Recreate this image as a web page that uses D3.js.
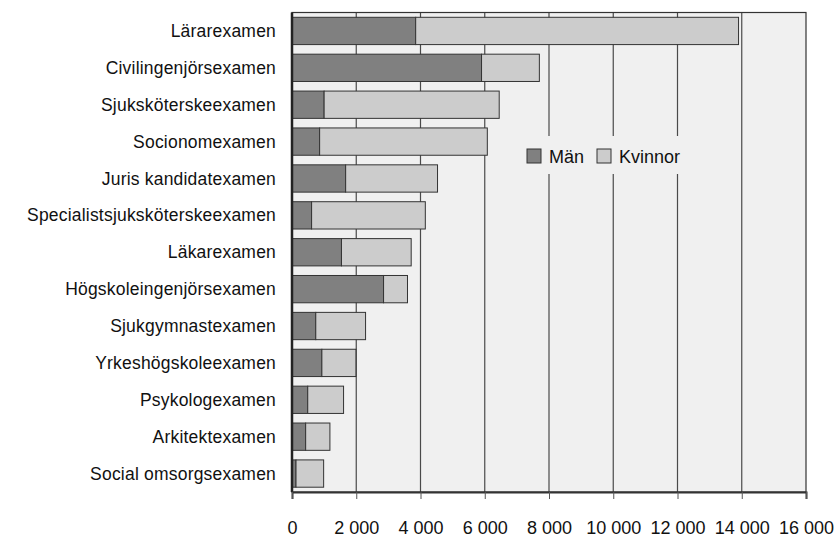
<!DOCTYPE html>
<html>
<head>
<meta charset="utf-8">
<script src="https://cdn.jsdelivr.net/npm/d3@7"></script>
<style>
body { margin: 0; background: #fff; }
text { font-family: "Liberation Sans", Arial, sans-serif; fill: #111; }
</style>
</head>
<body>
<script>
// examen, antal
const categories = ["Lärarexamen", "Civilingenjörsexamen", "Sjuksköterskeexamen", "Socionomexamen",
  "Juris kandidatexamen", "Specialistsjuksköterskeexamen", "Läkarexamen", "Högskoleingenjörsexamen",
  "Sjukgymnastexamen", "Yrkeshögskoleexamen", "Psykologexamen", "Arkitektexamen", "Social omsorgsexamen"];
const man = [3850, 5900, 1000, 860, 1670, 610, 1540, 2850, 740, 930, 490, 425, 125];
const kvinnor = [10050, 1800, 5450, 5220, 2860, 3540, 2170, 745, 1550, 1060, 1115, 755, 860];
const ticks = [0, 2000, 4000, 6000, 8000, 10000, 12000, 14000, 16000];
const seriesNames = ["Män", "Kvinnor"];
const colors = ["#808080", "#cccccc"];

const w = 837, h = 538;
const m = {top: 12.5, right: 31, bottom: 46, left: 292};

const svg = d3.select("body").append("svg")
  .attr("width", w)
  .attr("height", h);

const x = d3.scaleLinear().domain([0, 16000]).range([m.left, w - m.right]);
const y = d3.scaleBand().domain(categories).range([m.top, h - m.bottom]).paddingInner(0.26).paddingOuter(0.13);

// plot background
svg.append("rect")
  .attr("x", m.left).attr("y", m.top)
  .attr("width", x(16000) - m.left).attr("height", h - m.bottom - m.top)
  .attr("fill", "#f0f0f0");

// gridlines
svg.selectAll(".grid")
  .data(ticks.slice(1, -1))
  .enter().append("line")
  .attr("x1", d => x(d)).attr("x2", d => x(d))
  .attr("y1", m.top).attr("y2", h - m.bottom)
  .attr("stroke", "#4a4a4a").attr("stroke-width", 1.2);

// stacked bars
const rows = categories.map((c, i) => ({c: c, v: [man[i], kvinnor[i]]}));
rows.forEach(r => {
  let start = 0;
  r.v.forEach((v, j) => {
    svg.append("rect")
      .attr("x", x(start))
      .attr("y", y(r.c))
      .attr("width", x(start + v) - x(start))
      .attr("height", y.bandwidth())
      .attr("fill", colors[j])
      .attr("stroke", "#333")
      .attr("stroke-width", 1);
    start += v;
  });
});

// frame
svg.append("rect")
  .attr("x", m.left).attr("y", m.top)
  .attr("width", x(16000) - m.left).attr("height", h - m.bottom - m.top)
  .attr("fill", "none").attr("stroke", "#333").attr("stroke-width", 1.2);
svg.append("line")
  .attr("x1", m.left).attr("x2", m.left)
  .attr("y1", m.top).attr("y2", h - m.bottom)
  .attr("stroke", "#222").attr("stroke-width", 2.5);

// x axis
const fmt = d => d3.format(",")(d).replace(",", " ");
const xAxis = svg.append("g")
  .attr("transform", `translate(0,${h - m.bottom})`)
  .call(d3.axisBottom(x).tickValues(ticks).tickSize(7).tickPadding(22).tickFormat(fmt));
xAxis.select(".domain").attr("stroke", "#333").attr("stroke-width", 2);
xAxis.selectAll(".tick line").attr("stroke", "#555");
xAxis.selectAll("text").style("font-size", "18px").attr("fill", "#111");

// y labels
svg.selectAll(".lab")
  .data(categories)
  .enter().append("text")
  .attr("x", 276)
  .attr("y", d => y(d) + y.bandwidth() / 2)
  .attr("dy", "0.35em")
  .attr("text-anchor", "end")
  .style("font-size", "17.5px")
  .style("letter-spacing", "0.2px")
  .text(d => d);

// legend
const lg = svg.append("g").attr("transform", "translate(518,136)");
lg.append("rect").attr("width", 180).attr("height", 38).attr("fill", "#f0f0f0");
const li = lg.selectAll(".li").data(seriesNames).enter().append("g")
  .attr("transform", (d, i) => `translate(${9 + i * 70},13)`);
li.append("rect").attr("width", 14).attr("height", 14)
  .attr("fill", (d, i) => colors[i]).attr("stroke", "#333");
li.append("text").attr("x", 22).attr("y", 14)
  .style("font-size", "18px").text(d => d);
</script>
</body>
</html>
